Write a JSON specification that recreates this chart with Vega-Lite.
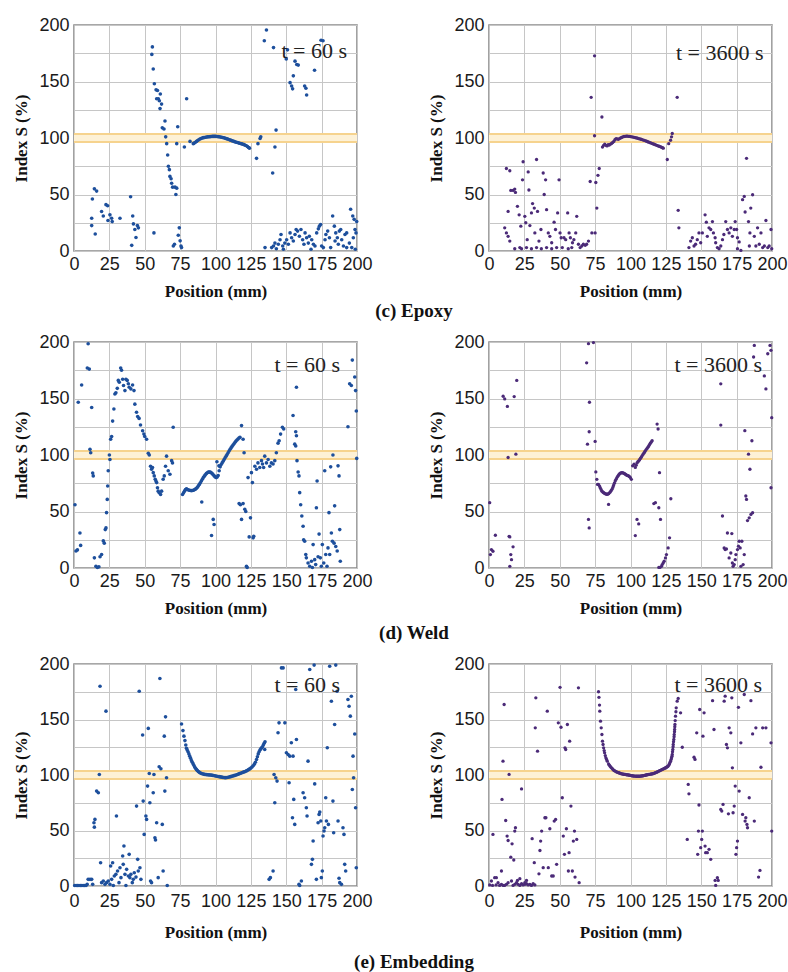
{
"$schema": "https://vega.github.io/schema/vega-lite/v6.json",
"padding": {"left": 12, "top": 15, "right": 0, "bottom": 0},
"background": "white",
"config": {
 "view": {"stroke": "#8a8a8a", "strokeWidth": 1.6},
 "axis": {"domain": false, "grid": true, "gridColor": "#c6c6c6", "gridOpacity": 1, "gridWidth": 1, "ticks": false, "labelOverlap": false, "labelFlush": false, "labelFont": "Liberation Sans", "labelFontSize": 18, "labelColor": "#1a1a1a", "titleFont": "Liberation Serif", "titleFontSize": 17, "titleFontWeight": "bold", "titleColor": "#111111"},
 "title": {"font": "Liberation Serif", "fontSize": 19, "fontWeight": "bold", "color": "#111111"}
},
"datasets": {
 "e60": [
  {"x":12.5,"y":29},{"x":12.5,"y":22.5},{"x":13,"y":46},{"x":14.4,"y":55},{"x":16,"y":53},{"x":15,"y":15},{"x":19.5,"y":35},{"x":20.7,"y":31},{"x":22.6,"y":41},{"x":23.8,"y":40},{"x":24,"y":27},{"x":25.4,"y":32},{"x":26.6,"y":29},{"x":27,"y":26},{"x":32.5,"y":29},{"x":40,"y":48},{"x":40.8,"y":5},{"x":41.5,"y":31},{"x":42,"y":24},{"x":43,"y":19},{"x":43.8,"y":12},{"x":44.8,"y":22.5},{"x":45.5,"y":20.5},
  {"x":55.4,"y":180.6},{"x":55,"y":174},{"x":56,"y":161},{"x":56.8,"y":148},{"x":58,"y":142.6},{"x":59,"y":142},{"x":59.6,"y":134.7},{"x":60.3,"y":133},{"x":58.4,"y":134.7},{"x":61,"y":139},{"x":61.9,"y":130},{"x":60.8,"y":126},{"x":62.4,"y":109},{"x":63.6,"y":108},{"x":64.3,"y":115},{"x":64.8,"y":101},{"x":65.5,"y":95},{"x":66.2,"y":85},{"x":66.7,"y":75},{"x":67.4,"y":72},{"x":67.8,"y":66},{"x":68.6,"y":64},{"x":69,"y":60},{"x":69.7,"y":56.5},{"x":71.4,"y":56.5},{"x":72.6,"y":55.6},{"x":72,"y":50},{"x":70.2,"y":4.4},{"x":71,"y":6},{"x":73.3,"y":110},{"x":72.6,"y":95},{"x":74.4,"y":20.5},{"x":73.7,"y":14},{"x":75,"y":9},{"x":75.6,"y":4.4},{"x":76,"y":3},{"x":79.6,"y":134.7},{"x":78,"y":92},{"x":82,"y":97},{"x":84.3,"y":95},{"x":56.5,"y":16},
  {"x":85,"y":95.5},{"x":85.8,"y":96.2},{"x":86.6,"y":97},{"x":87.4,"y":97.8},{"x":88.2,"y":98.5},{"x":89,"y":99.1},{"x":89.8,"y":99.6},{"x":90.6,"y":100},{"x":91.4,"y":100.3},{"x":92.2,"y":100.5},{"x":93,"y":100.7},{"x":93.8,"y":100.9},{"x":94.6,"y":101},{"x":95.4,"y":101.1},{"x":96.2,"y":101.2},{"x":97,"y":101.3},{"x":97.8,"y":101.4},{"x":98.6,"y":101.4},{"x":99.4,"y":101.4},{"x":100.2,"y":101.4},{"x":101,"y":101.3},{"x":101.8,"y":101.2},{"x":102.6,"y":101.1},{"x":103.4,"y":100.9},{"x":104.2,"y":100.7},{"x":105,"y":100.5},{"x":105.8,"y":100.2},{"x":106.6,"y":99.9},{"x":107.4,"y":99.6},{"x":108.2,"y":99.2},{"x":109,"y":98.9},{"x":109.8,"y":98.5},{"x":110.6,"y":98.1},{"x":111.4,"y":97.7},{"x":112.2,"y":97.3},{"x":113,"y":97},{"x":113.8,"y":96.6},{"x":114.6,"y":96.3},{"x":115.4,"y":96},{"x":116.2,"y":95.7},{"x":117,"y":95.4},{"x":117.8,"y":95.1},{"x":118.6,"y":94.8},{"x":119.4,"y":94.5},{"x":120.2,"y":94.1},{"x":121,"y":93.6},{"x":121.8,"y":93.1},{"x":122.6,"y":92.4},{"x":123.4,"y":91.6},{"x":124,"y":91},
  {"x":129,"y":82},{"x":130,"y":95},{"x":131.5,"y":99.5},{"x":132,"y":101},
  {"x":134.5,"y":186},{"x":136,"y":195.6},{"x":140.4,"y":69},{"x":141,"y":180},{"x":142,"y":92},{"x":142.8,"y":107},{"x":150,"y":170},{"x":150.9,"y":178},{"x":152.7,"y":149},{"x":153.8,"y":146},{"x":154.5,"y":143.5},{"x":155,"y":155},{"x":156.2,"y":168},{"x":157.4,"y":165},{"x":158.5,"y":164.5},{"x":163,"y":146},{"x":163.9,"y":144},{"x":164.4,"y":138},{"x":170,"y":160},{"x":174.6,"y":186.5},{"x":176,"y":186},
  {"x":135,"y":3},{"x":139.7,"y":3},{"x":141,"y":4.4},{"x":142,"y":7},{"x":143,"y":2},{"x":144.4,"y":6},{"x":145.6,"y":10},{"x":146.3,"y":14.6},{"x":147.5,"y":4.4},{"x":148,"y":1.5},{"x":149,"y":7},{"x":150.3,"y":10},{"x":151.5,"y":6},{"x":152.7,"y":16},{"x":153.8,"y":11.7},{"x":155,"y":8.8},{"x":156.2,"y":14.6},{"x":157,"y":19},{"x":158,"y":17.6},{"x":159.3,"y":13},{"x":160.4,"y":19},{"x":161.6,"y":10},{"x":162.5,"y":6},{"x":163.3,"y":16},{"x":164.4,"y":11.7},{"x":165.6,"y":7},{"x":166.3,"y":13},{"x":167.5,"y":1.5},{"x":168,"y":10},{"x":169.2,"y":6},{"x":170.3,"y":4.4},{"x":171.5,"y":16},{"x":172.7,"y":19.6},{"x":173.4,"y":22},{"x":174.3,"y":23.4},{"x":175,"y":4.4},{"x":176.2,"y":3},{"x":177.4,"y":10},{"x":178,"y":14.6},{"x":179.3,"y":17.6},{"x":180.5,"y":11.7},{"x":181.4,"y":3},{"x":182.8,"y":31},{"x":184,"y":22},{"x":185,"y":16},{"x":186.1,"y":11.7},{"x":187.5,"y":17.6},{"x":188.5,"y":19},{"x":189.2,"y":10},{"x":190.4,"y":4.4},{"x":191.5,"y":14.6},{"x":192.7,"y":16},{"x":195.5,"y":37},{"x":194.6,"y":7},{"x":196.3,"y":3},{"x":197,"y":31},{"x":198,"y":28},{"x":198.6,"y":19},{"x":199.3,"y":16},{"x":199.8,"y":26},{"x":198.8,"y":1.5},{"x":197.4,"y":11.7},{"x":192.7,"y":3},{"x":186.8,"y":6},{"x":184.5,"y":8.8}
 ],
 "e3600": [
  {"x":12.3,"y":73},{"x":14.7,"y":71},{"x":15.4,"y":53.6},{"x":13.5,"y":35},{"x":11.1,"y":20.5},{"x":12.3,"y":16},{"x":13.5,"y":13},{"x":14.7,"y":8.8},{"x":17,"y":53.6},{"x":18.2,"y":54.8},{"x":18.7,"y":51.8},{"x":20.1,"y":39.5},{"x":21.3,"y":32},{"x":22.5,"y":22},{"x":23.7,"y":63},{"x":24.1,"y":79},{"x":25.3,"y":30.7},{"x":26,"y":25},{"x":27,"y":10},{"x":27.7,"y":70},{"x":28.2,"y":54},{"x":28.9,"y":22.5},{"x":30,"y":33.7},{"x":30.8,"y":42},{"x":32,"y":38},{"x":32.4,"y":16},{"x":33.6,"y":81},{"x":34.3,"y":35},{"x":35.3,"y":8.8},{"x":36.7,"y":19},{"x":38.3,"y":69},{"x":39,"y":50},{"x":40,"y":63},{"x":40.7,"y":36.6},{"x":41.9,"y":16},{"x":43,"y":13},{"x":44.3,"y":7.3},{"x":46,"y":25.5},{"x":47,"y":19},{"x":48.5,"y":33.7},{"x":49.5,"y":63},{"x":50.2,"y":16},{"x":51,"y":11.7},{"x":51.8,"y":3},{"x":53,"y":11.7},{"x":54.2,"y":10},{"x":55.6,"y":33.7},{"x":56.6,"y":16},{"x":57.5,"y":11.7},{"x":59,"y":7.3},{"x":60,"y":10},{"x":61.3,"y":16},{"x":62,"y":30.7},{"x":63.2,"y":6},{"x":64.4,"y":3},{"x":65.6,"y":4.4},{"x":66.7,"y":6},{"x":68,"y":5},{"x":69,"y":6},{"x":70.3,"y":8.8},{"x":71.5,"y":61.5},{"x":72.7,"y":16},{"x":75,"y":16},{"x":75.5,"y":60.6},{"x":76.2,"y":38},{"x":77,"y":67},{"x":77.9,"y":73},{"x":72.2,"y":136},{"x":74.6,"y":172.7},{"x":74.6,"y":102},{"x":79.8,"y":118.6},
  {"x":18.2,"y":2},{"x":21.8,"y":3},{"x":23,"y":2},{"x":26.5,"y":3},{"x":30,"y":2},{"x":33.6,"y":3},{"x":37,"y":2},{"x":40.7,"y":3},{"x":44.3,"y":2},{"x":47.8,"y":3},{"x":56,"y":2},{"x":58.5,"y":3},
  {"x":80.2,"y":92},{"x":81,"y":93.5},{"x":81.8,"y":94.5},{"x":82.6,"y":93.5},{"x":83.4,"y":93},{"x":84.2,"y":94},{"x":85,"y":93.8},{"x":85.8,"y":94.5},{"x":86.6,"y":95.2},{"x":87.4,"y":96},{"x":88.2,"y":97},{"x":89,"y":98.5},{"x":89.8,"y":99.5},{"x":90.6,"y":99.2},{"x":91.4,"y":98.8},{"x":92.2,"y":99.5},{"x":93,"y":100},{"x":93.8,"y":100.5},{"x":94.6,"y":101},{"x":95.4,"y":101.3},{"x":96.2,"y":101.5},{"x":97,"y":101.6},{"x":97.8,"y":101.6},{"x":98.6,"y":101.5},{"x":99.4,"y":101.4},{"x":100.2,"y":101.2},{"x":101,"y":101},{"x":101.8,"y":100.8},{"x":102.6,"y":100.6},{"x":103.4,"y":100.3},{"x":104.2,"y":100.1},{"x":105,"y":99.8},{"x":105.8,"y":99.5},{"x":106.6,"y":99.2},{"x":107.4,"y":98.9},{"x":108.2,"y":98.6},{"x":109,"y":98.2},{"x":109.8,"y":97.9},{"x":110.6,"y":97.5},{"x":111.4,"y":97.1},{"x":112.2,"y":96.7},{"x":113,"y":96.3},{"x":113.8,"y":95.9},{"x":114.6,"y":95.5},{"x":115.4,"y":95.1},{"x":116.2,"y":94.7},{"x":117,"y":94.3},{"x":117.8,"y":93.9},{"x":118.6,"y":93.5},{"x":119.4,"y":93.1},{"x":120.2,"y":92.7},{"x":121,"y":92.3},{"x":121.8,"y":91.9},{"x":122.6,"y":91.4},{"x":123.2,"y":91},
  {"x":126,"y":81},{"x":127,"y":95},{"x":128.3,"y":98},{"x":129,"y":101},{"x":129.5,"y":104},
  {"x":133,"y":136},{"x":133.7,"y":36},{"x":134.2,"y":20.5},
  {"x":141.3,"y":3},{"x":142.5,"y":8.8},{"x":143.7,"y":11.7},{"x":144.9,"y":4.4},{"x":146,"y":6},{"x":147.2,"y":10},{"x":148.4,"y":16},{"x":149.6,"y":7.3},{"x":150.8,"y":16},{"x":152.7,"y":32},{"x":153.6,"y":25.5},{"x":154.3,"y":13},{"x":155.5,"y":20.5},{"x":156.7,"y":19},{"x":157.9,"y":26},{"x":158.6,"y":16},{"x":159.8,"y":11.7},{"x":160.2,"y":7.3},{"x":161.4,"y":3},{"x":162.6,"y":2},{"x":163.8,"y":4.4},{"x":165,"y":10},{"x":166,"y":14.6},{"x":167.3,"y":26},{"x":168.5,"y":19},{"x":169.7,"y":16},{"x":170.9,"y":20.5},{"x":172,"y":13},{"x":173.3,"y":19},{"x":174,"y":26},{"x":175,"y":19},{"x":175.6,"y":11.7},{"x":176.8,"y":8},{"x":178,"y":0.5},{"x":179.2,"y":45.4},{"x":180.4,"y":48.3},{"x":181,"y":34.5},{"x":182,"y":82},{"x":183.4,"y":26},{"x":184.4,"y":16},{"x":185,"y":38},{"x":186.3,"y":49.8},{"x":187.5,"y":13},{"x":188.6,"y":4.4},{"x":189.8,"y":20.5},{"x":191,"y":6},{"x":192.2,"y":16},{"x":193.4,"y":3},{"x":194.6,"y":4.4},{"x":195.7,"y":27},{"x":197,"y":3},{"x":198,"y":4.4},{"x":199.3,"y":19},{"x":199.8,"y":2},{"x":184,"y":4.4},{"x":175.6,"y":2}
 ],
 "w60": [
  {"x":0.7,"y":56},{"x":1.4,"y":15},{"x":2.4,"y":16},{"x":4.2,"y":31},{"x":4.7,"y":20},{"x":3,"y":146.7},{"x":5.4,"y":162},{"x":10,"y":198.5},{"x":9.4,"y":177},{"x":10.8,"y":176},{"x":11.3,"y":105},{"x":11.8,"y":102},{"x":12.5,"y":142},{"x":13.2,"y":84},{"x":13.6,"y":81.5},{"x":14.4,"y":9},{"x":15.5,"y":1.5},{"x":16.5,"y":0.5},{"x":17.6,"y":1},{"x":18.4,"y":10},{"x":19.5,"y":12},{"x":20.7,"y":24},{"x":21.4,"y":22},{"x":22.1,"y":34},{"x":22.6,"y":35.5},{"x":23,"y":49},{"x":23.5,"y":60.7},{"x":23.8,"y":72.6},{"x":24.2,"y":86},{"x":25,"y":100},{"x":25.4,"y":96},{"x":25.9,"y":114},{"x":26.6,"y":116.4},{"x":27.3,"y":130},{"x":28.2,"y":140.7},{"x":28.9,"y":154},{"x":29.6,"y":155},{"x":30.6,"y":159},{"x":31.3,"y":166},{"x":32,"y":164.4},{"x":33,"y":177},{"x":33.6,"y":175},{"x":34.4,"y":167},{"x":35,"y":161.5},{"x":36,"y":157},{"x":36.7,"y":167},{"x":37.6,"y":166},{"x":38.4,"y":163},{"x":39,"y":160},{"x":40.2,"y":158.5},{"x":41.4,"y":162},{"x":42.4,"y":157},{"x":43,"y":145},{"x":44.2,"y":137.8},{"x":45,"y":134},{"x":46,"y":132.4},{"x":47,"y":126.5},{"x":48.5,"y":121.5},{"x":49.4,"y":118.5},{"x":50,"y":116.4},{"x":51.3,"y":114},{"x":52.5,"y":101.6},{"x":53.2,"y":100},{"x":54.1,"y":90},{"x":54.8,"y":87.4},{"x":55.5,"y":89},{"x":56,"y":84.4},{"x":56.7,"y":81.5},{"x":57.4,"y":78.5},{"x":57.9,"y":77},{"x":58.4,"y":75.6},{"x":59,"y":71},{"x":59.5,"y":68},{"x":60.2,"y":66.7},{"x":61.2,"y":65},{"x":61.9,"y":68},{"x":63,"y":78.5},{"x":63.8,"y":81.5},{"x":64.7,"y":90},{"x":65.4,"y":99},{"x":66.6,"y":86},{"x":67.8,"y":83},{"x":69,"y":95},{"x":69.6,"y":93},{"x":70.1,"y":124.5},
  {"x":76.7,"y":65},{"x":77.4,"y":66.5},{"x":78.1,"y":68},{"x":78.8,"y":69.5},{"x":79.5,"y":70},{"x":80.2,"y":69.5},{"x":80.9,"y":69},{"x":81.6,"y":68.8},{"x":82.3,"y":68.6},{"x":83,"y":68.5},{"x":83.7,"y":68.6},{"x":84.4,"y":68.8},{"x":85.1,"y":69.2},{"x":85.8,"y":69.8},{"x":86.5,"y":70.5},{"x":87.2,"y":71.5},{"x":87.9,"y":72.8},{"x":88.6,"y":74},{"x":89.3,"y":75.5},{"x":90,"y":77},{"x":90.7,"y":78.5},{"x":91.4,"y":80},{"x":92.1,"y":81.3},{"x":92.8,"y":82.5},{"x":93.5,"y":83.5},{"x":94.2,"y":84.3},{"x":94.9,"y":84.8},{"x":95.6,"y":85},{"x":96.3,"y":84.8},{"x":97,"y":84.3},{"x":97.7,"y":83.5},{"x":98.4,"y":82.5},{"x":99.1,"y":81.5},{"x":99.8,"y":80.6},{"x":100.5,"y":80},{"x":101.2,"y":80.5},{"x":101.9,"y":81.8},{"x":102.6,"y":86},{"x":103.3,"y":89.5},{"x":104,"y":91.5},{"x":104.7,"y":93},{"x":105.4,"y":94.5},{"x":106.1,"y":96},{"x":106.8,"y":97.5},{"x":107.5,"y":99},{"x":108.2,"y":100.5},{"x":108.9,"y":102},{"x":109.6,"y":103.5},{"x":110.3,"y":105},{"x":111,"y":106.3},{"x":111.7,"y":107.6},{"x":112.4,"y":108.8},{"x":113.1,"y":110},{"x":113.8,"y":111.2},{"x":114.5,"y":112.3},{"x":115.2,"y":113.3},{"x":115.9,"y":114.2},{"x":116.6,"y":115},{"x":117.3,"y":115.6},
  {"x":90.3,"y":58.4},{"x":97.2,"y":28.7},{"x":98.4,"y":43},{"x":99,"y":38.5},{"x":101,"y":94},{"x":102.4,"y":90.4},
  {"x":118.4,"y":126},{"x":119.5,"y":114},{"x":120.2,"y":102},{"x":116.7,"y":57},{"x":117.6,"y":56},{"x":118.4,"y":43},{"x":119.5,"y":57},{"x":120.7,"y":52},{"x":121.4,"y":50},{"x":121.9,"y":1.5},{"x":122.4,"y":0.5},{"x":123,"y":80},{"x":123.8,"y":27.5},{"x":124.7,"y":44.4},{"x":125.4,"y":84.4},{"x":126.1,"y":75.6},{"x":126.6,"y":26.7},{"x":127,"y":28},{"x":127.8,"y":90},{"x":129,"y":87.4},{"x":130,"y":93},{"x":131.3,"y":89},{"x":132.5,"y":95},{"x":133.2,"y":92},{"x":134,"y":89},{"x":134.8,"y":99},{"x":136,"y":93},{"x":137.2,"y":96},{"x":138.4,"y":90},{"x":139.5,"y":93},{"x":140.7,"y":92},{"x":141.9,"y":95},{"x":143,"y":102},{"x":144.2,"y":110.5},{"x":145,"y":112.6},{"x":146,"y":118.5},{"x":147.3,"y":124.5},{"x":148.2,"y":123},{"x":154.8,"y":135},{"x":156,"y":109.6},{"x":156.7,"y":108},{"x":157.6,"y":95},{"x":158.4,"y":85},{"x":159,"y":81.5},{"x":159.5,"y":66.7},{"x":160.2,"y":56},{"x":161,"y":46},{"x":161.9,"y":37},{"x":162.3,"y":25},{"x":163,"y":23.7},{"x":163.8,"y":12},{"x":164.2,"y":9},{"x":157.2,"y":160},{"x":156.7,"y":120.6},{"x":157.2,"y":117},
  {"x":165.4,"y":4.4},{"x":166.6,"y":1.5},{"x":167.8,"y":6},{"x":168.5,"y":0.5},{"x":169,"y":20.7},{"x":170.1,"y":7.4},{"x":170.8,"y":3},{"x":171.3,"y":53.3},{"x":171.8,"y":77},{"x":172.5,"y":10},{"x":173.2,"y":30},{"x":174.1,"y":9},{"x":174.8,"y":1.5},{"x":175.5,"y":20.7},{"x":176.5,"y":4.4},{"x":177.2,"y":86},{"x":177.9,"y":12},{"x":178.8,"y":1.5},{"x":179.5,"y":17.8},{"x":180.2,"y":49},{"x":180.7,"y":12},{"x":181.4,"y":89.5},{"x":181.9,"y":31},{"x":182.6,"y":23.7},{"x":183,"y":100},{"x":183.8,"y":22},{"x":184.2,"y":55},{"x":185,"y":19},{"x":186,"y":15},{"x":186.6,"y":90.4},{"x":187.3,"y":81.5},{"x":187.8,"y":34},{"x":188.2,"y":6},{"x":193.6,"y":125},{"x":194.8,"y":163},{"x":196,"y":161.5},{"x":196.7,"y":184},{"x":198.4,"y":169},{"x":199,"y":157},{"x":199.5,"y":139},{"x":199.8,"y":97}
 ],
 "w3600": [
  {"x":0.5,"y":57.8},{"x":1,"y":11.9},{"x":1.7,"y":16.3},{"x":2.8,"y":14.8},{"x":4.5,"y":29},{"x":10,"y":152},{"x":11.1,"y":149.6},{"x":13,"y":143},{"x":13.5,"y":97.8},{"x":14.2,"y":28},{"x":14.7,"y":27.5},{"x":15.4,"y":11.9},{"x":15.9,"y":7.4},{"x":14.7,"y":1.5},{"x":17,"y":18.7},{"x":17.8,"y":151.7},{"x":19,"y":100.7},{"x":19.6,"y":166},
  {"x":69,"y":181.6},{"x":70.3,"y":198.5},{"x":73.8,"y":199.5},{"x":69.6,"y":109.6},{"x":70.8,"y":120.6},{"x":70.3,"y":43},{"x":70.8,"y":35.5},{"x":71,"y":146.7},{"x":75,"y":112},{"x":75.5,"y":85},{"x":76.2,"y":78.5},{"x":76.7,"y":74},
  {"x":77.4,"y":74},{"x":78.1,"y":72.5},{"x":78.6,"y":71},{"x":79.2,"y":69.5},{"x":79.8,"y":68},{"x":80.4,"y":67.3},{"x":81,"y":66.7},{"x":81.6,"y":66.2},{"x":82.1,"y":65.8},{"x":82.7,"y":65.5},{"x":83.3,"y":65.2},{"x":83.9,"y":65.3},{"x":84.5,"y":65.8},{"x":85.1,"y":66.5},{"x":85.7,"y":67.3},{"x":86.3,"y":68.4},{"x":86.9,"y":69.6},{"x":87.5,"y":71.3},{"x":88,"y":73},{"x":88.6,"y":75},{"x":89.2,"y":77},{"x":89.8,"y":78.5},{"x":90.4,"y":80},{"x":91,"y":81.2},{"x":91.6,"y":82.4},{"x":92.2,"y":83.2},{"x":92.8,"y":83.9},{"x":93.4,"y":84.2},{"x":94,"y":84.4},{"x":94.6,"y":84.2},{"x":95.2,"y":83.9},{"x":95.8,"y":83.5},{"x":96.3,"y":83},{"x":96.9,"y":82.5},{"x":97.5,"y":82},{"x":98.1,"y":81.8},{"x":98.7,"y":81.5},{"x":99.3,"y":80.8},{"x":99.9,"y":80},{"x":100.6,"y":78.5},{"x":101.5,"y":90.4},{"x":102.5,"y":91.9},{"x":103.4,"y":89},{"x":104,"y":91},{"x":104.6,"y":93},{"x":105.2,"y":94},{"x":105.8,"y":94.8},{"x":106.4,"y":95.8},{"x":107,"y":96.9},{"x":107.6,"y":98.1},{"x":108.2,"y":99.3},{"x":108.8,"y":100.5},{"x":109.4,"y":101.6},{"x":110,"y":102.7},{"x":110.5,"y":103.7},{"x":111.1,"y":104.8},{"x":111.7,"y":105.8},{"x":112.3,"y":106.9},{"x":112.9,"y":108},{"x":113.5,"y":109.2},{"x":114,"y":110.5},{"x":114.7,"y":111.5},{"x":115.3,"y":112.6},
  {"x":84.5,"y":56.3},{"x":103.4,"y":28.7},{"x":104.6,"y":43},{"x":105.8,"y":39},{"x":116.5,"y":57},{"x":117.6,"y":57.8},{"x":118.8,"y":127.4},{"x":119.5,"y":123},{"x":120.5,"y":84.4},{"x":120,"y":53.3},{"x":121.2,"y":43},{"x":121.9,"y":1.5},{"x":122.4,"y":3},{"x":123.1,"y":4.4},{"x":123.8,"y":6},{"x":124.7,"y":8.9},{"x":125.4,"y":11.9},{"x":126.6,"y":17.8},{"x":127.6,"y":26.7},{"x":128.5,"y":61.3},{"x":120,"y":0.5},{"x":120.8,"y":0.5},
  {"x":163.8,"y":163},{"x":163.8,"y":126.5},{"x":165,"y":46},{"x":166.2,"y":17.8},{"x":166.9,"y":16.3},{"x":167.8,"y":16.9},{"x":168.5,"y":31},{"x":169.7,"y":8.9},{"x":170.9,"y":13.3},{"x":171.6,"y":30.5},{"x":172,"y":4.4},{"x":172.5,"y":1.5},{"x":173.3,"y":3},{"x":174,"y":7.4},{"x":174.5,"y":11.9},{"x":175.6,"y":16.3},{"x":176.3,"y":19.3},{"x":176.8,"y":23.7},{"x":177.5,"y":17.8},{"x":178,"y":1.5},{"x":178.7,"y":23.7},{"x":179.6,"y":3},{"x":180.4,"y":11.9},{"x":180.8,"y":121.5},{"x":181.5,"y":63.7},{"x":182,"y":60.7},{"x":182.7,"y":42},{"x":183.4,"y":100.7},{"x":183.9,"y":44.4},{"x":184.4,"y":87.4},{"x":185.1,"y":47.4},{"x":185.8,"y":112.6},{"x":186.3,"y":48.9},{"x":187,"y":186.7},{"x":187.5,"y":197},{"x":194.6,"y":170},{"x":195.7,"y":158.5},{"x":197,"y":189.6},{"x":198.6,"y":197},{"x":199.3,"y":192.6},{"x":199.8,"y":133},{"x":199.3,"y":71}
 ],
 "m60": [
  {"x":0.5,"y":0.5},{"x":1.5,"y":0.5},{"x":2.5,"y":0.5},{"x":3.5,"y":0.5},{"x":4.5,"y":0.5},{"x":5.5,"y":0.5},{"x":6.5,"y":0.5},{"x":7.5,"y":0.5},{"x":8.5,"y":0.5},{"x":9.3,"y":1.5},
  {"x":10,"y":6},{"x":11.3,"y":6},{"x":12.5,"y":6},{"x":13.2,"y":1.5},{"x":14.1,"y":57},{"x":14.8,"y":60},{"x":14.4,"y":53},{"x":16,"y":85.5},{"x":17.2,"y":84},{"x":17.9,"y":100.5},{"x":18.4,"y":180},{"x":18.8,"y":21},{"x":19.5,"y":3},{"x":20.7,"y":4.5},{"x":21.9,"y":1.5},{"x":22.6,"y":157.5},{"x":23,"y":3},{"x":24.2,"y":4.5},{"x":25.4,"y":1.5},{"x":25.9,"y":18},{"x":26.6,"y":6},{"x":27.3,"y":21},{"x":27.8,"y":0.5},{"x":28.5,"y":9},{"x":29.6,"y":10.5},{"x":30,"y":63},{"x":30.8,"y":13.5},{"x":31.8,"y":3},{"x":32.5,"y":16.5},{"x":33.2,"y":7.5},{"x":34.4,"y":27},{"x":34.8,"y":19.5},{"x":35.3,"y":36},{"x":36,"y":10.5},{"x":36.7,"y":0.5},{"x":37.2,"y":15},{"x":38.4,"y":9},{"x":39,"y":28.5},{"x":39.5,"y":7.5},{"x":40.2,"y":10.5},{"x":41.2,"y":3},{"x":41.9,"y":6},{"x":42.6,"y":12},{"x":43.8,"y":8},{"x":44.2,"y":72},{"x":45,"y":24},{"x":45.4,"y":13.5},{"x":46.1,"y":175.5},{"x":46.6,"y":16.5},{"x":47.3,"y":6},{"x":48.5,"y":136},{"x":48.9,"y":76.5},{"x":49.6,"y":46.5},{"x":50.8,"y":63},{"x":51.3,"y":60},{"x":52,"y":90},{"x":52.5,"y":142},{"x":53.2,"y":101.4},{"x":53.6,"y":75},{"x":54.1,"y":4.5},{"x":54.8,"y":3},{"x":56,"y":84},{"x":56.5,"y":100.5},{"x":57.2,"y":43.5},{"x":57.6,"y":41.4},{"x":58.4,"y":57},{"x":59.5,"y":7.5},{"x":60.2,"y":107.4},{"x":60.7,"y":187},{"x":61.4,"y":105.6},{"x":62.4,"y":55.5},{"x":63,"y":13.5},{"x":63.8,"y":135},{"x":64.2,"y":85.5},{"x":64.7,"y":152.4},{"x":65.4,"y":97.5},{"x":65.9,"y":0.5},
  {"x":76,"y":146},{"x":77,"y":140},{"x":77.7,"y":135},{"x":78.4,"y":131},{"x":79,"y":127},{"x":79.5,"y":124},{"x":80,"y":122.5},{"x":80.6,"y":121},{"x":81.2,"y":119},{"x":81.8,"y":117},{"x":82.4,"y":115},{"x":83,"y":113},{"x":83.6,"y":111.5},{"x":84.2,"y":110},{"x":84.8,"y":108.5},{"x":85.4,"y":107},{"x":86,"y":105.8},{"x":86.6,"y":104.8},{"x":87.2,"y":104},{"x":87.8,"y":103.2},{"x":88.4,"y":102.6},{"x":89,"y":102},{"x":89.8,"y":101.5},{"x":90.6,"y":101.1},{"x":91.4,"y":100.8},{"x":92.2,"y":100.6},{"x":93,"y":100.4},{"x":93.8,"y":100.3},{"x":94.6,"y":100.2},{"x":95.4,"y":100.1},{"x":96.2,"y":100},{"x":97,"y":99.9},{"x":97.8,"y":99.7},{"x":98.6,"y":99.5},{"x":99.4,"y":99.3},{"x":100.2,"y":99.1},{"x":101,"y":98.9},{"x":101.8,"y":98.7},{"x":102.6,"y":98.5},{"x":103.4,"y":98.3},{"x":104.2,"y":98.1},{"x":105,"y":97.9},{"x":105.8,"y":97.7},{"x":106.6,"y":97.6},{"x":107.4,"y":97.6},{"x":108.2,"y":97.8},{"x":109,"y":98},{"x":109.8,"y":98.2},{"x":110.6,"y":98.5},{"x":111.4,"y":98.8},{"x":112.2,"y":99.1},{"x":113,"y":99.4},{"x":113.8,"y":99.7},{"x":114.6,"y":100},{"x":115.4,"y":100.4},{"x":116.2,"y":100.8},{"x":117,"y":101.2},{"x":117.8,"y":101.6},{"x":118.6,"y":102},{"x":119.4,"y":102.4},{"x":120.2,"y":102.8},{"x":121,"y":103.2},{"x":121.8,"y":103.7},{"x":122.6,"y":104.2},{"x":123.4,"y":104.8},{"x":124.2,"y":105.5},{"x":125,"y":106.3},{"x":125.8,"y":107.2},{"x":126.6,"y":108.3},{"x":127.4,"y":109.6},{"x":128.2,"y":111.5},{"x":129,"y":114},{"x":129.6,"y":116.5},{"x":130.2,"y":119},{"x":130.8,"y":121},{"x":131.4,"y":122.5},{"x":132,"y":123.5},{"x":132.6,"y":124.5},{"x":133.2,"y":125.5},{"x":133.8,"y":127},{"x":134.4,"y":128.5},{"x":135,"y":130},{"x":134.8,"y":123},
  {"x":137.9,"y":6},{"x":138.8,"y":7.5},{"x":140.7,"y":13.5},{"x":141.9,"y":75},{"x":141.4,"y":100.5},{"x":142.6,"y":97.5},{"x":143.5,"y":94.5},{"x":144.2,"y":138},{"x":144.9,"y":147},{"x":146.6,"y":196.5},{"x":147.8,"y":196.5},{"x":149,"y":147},{"x":150.1,"y":120},{"x":151.3,"y":118.5},{"x":152,"y":93},{"x":152.5,"y":117},{"x":153.6,"y":129},{"x":154.4,"y":61.5},{"x":154.8,"y":117},{"x":155.3,"y":78},{"x":156,"y":55.5},{"x":156.7,"y":177},{"x":157.2,"y":132},{"x":159,"y":1.5},{"x":159.5,"y":0.5},{"x":160.7,"y":4.5},{"x":161.9,"y":84},{"x":163,"y":79.5},{"x":164.2,"y":70.5},{"x":164.7,"y":63},{"x":165.4,"y":112.5},{"x":166.6,"y":195},{"x":167.8,"y":19.5},{"x":168.5,"y":24},{"x":169,"y":40.5},{"x":169.7,"y":199},{"x":170.1,"y":92},{"x":171.3,"y":6},{"x":172.5,"y":57},{"x":173.2,"y":64.5},{"x":173.7,"y":66.6},{"x":174.4,"y":58.5},{"x":174.8,"y":7.5},{"x":175.5,"y":13.5},{"x":176,"y":45},{"x":176.7,"y":49.5},{"x":177.2,"y":52.5},{"x":177.9,"y":79.5},{"x":178.4,"y":58.5},{"x":179,"y":124.5},{"x":179.8,"y":55.5},{"x":180.7,"y":198},{"x":181.9,"y":166.5},{"x":183,"y":76.5},{"x":183.5,"y":48},{"x":184.2,"y":145.5},{"x":185,"y":199},{"x":185.9,"y":175.5},{"x":186.6,"y":58.5},{"x":187.3,"y":7},{"x":187.8,"y":3},{"x":189,"y":1.5},{"x":190.1,"y":52.5},{"x":190.8,"y":46.5},{"x":191.3,"y":19.5},{"x":192,"y":13.5},{"x":193.6,"y":168},{"x":194.4,"y":162},{"x":195.3,"y":153},{"x":196,"y":171},{"x":196.7,"y":87},{"x":197.2,"y":117},{"x":198.4,"y":137},{"x":199,"y":70.5},{"x":199.5,"y":16.5},{"x":197.6,"y":97.5}
 ],
 "m3600": [
  {"x":0.5,"y":1},{"x":1.7,"y":4.5},{"x":2.5,"y":0.5},{"x":4,"y":7.5},{"x":5,"y":1},{"x":6.4,"y":3},{"x":7.5,"y":0.5},{"x":8.8,"y":1.5},{"x":10,"y":0.5},{"x":11,"y":0.5},{"x":12.3,"y":1.5},{"x":13.5,"y":3},{"x":15.9,"y":4.5},{"x":17,"y":0.5},{"x":18.2,"y":1.5},{"x":19.4,"y":3},{"x":20.6,"y":1.5},{"x":21.8,"y":0.5},{"x":23,"y":2},{"x":24.1,"y":1},{"x":25.3,"y":1.5},{"x":26.5,"y":2},{"x":27.7,"y":1},{"x":28.9,"y":1.5},{"x":30,"y":0.5},{"x":31.2,"y":2},{"x":32.4,"y":1},
  {"x":2.8,"y":46.5},{"x":5.2,"y":7.5},{"x":8.8,"y":13.5},{"x":9.2,"y":78},{"x":9.9,"y":112.5},{"x":10.7,"y":163.5},{"x":11.8,"y":59},{"x":12.8,"y":45},{"x":13.5,"y":41},{"x":14.2,"y":100.5},{"x":15.4,"y":26},{"x":16.3,"y":38},{"x":17.5,"y":23.4},{"x":18.2,"y":49.5},{"x":18.7,"y":52.5},{"x":20.1,"y":5},{"x":21.8,"y":6.6},{"x":23,"y":87.5},{"x":25.3,"y":3},{"x":26.5,"y":5},{"x":30.5,"y":42.6},{"x":32,"y":21},{"x":32.7,"y":142.5},{"x":33.1,"y":169.5},{"x":34.3,"y":121.5},{"x":35.3,"y":11},{"x":36,"y":32},{"x":36.5,"y":40.5},{"x":37.2,"y":49.5},{"x":38.3,"y":16.5},{"x":39.5,"y":61.5},{"x":40.2,"y":61.5},{"x":41.2,"y":157.5},{"x":41.9,"y":16.5},{"x":43,"y":51.6},{"x":44.3,"y":9},{"x":45.4,"y":9},{"x":46.1,"y":58.5},{"x":47.1,"y":60},{"x":47.8,"y":19.5},{"x":49,"y":147},{"x":50.2,"y":179},{"x":50.9,"y":143},{"x":51.8,"y":79.5},{"x":52.5,"y":45},{"x":53.3,"y":28.5},{"x":53.7,"y":124.5},{"x":54.2,"y":123},{"x":54.7,"y":51.6},{"x":55.4,"y":145.5},{"x":56.1,"y":13.5},{"x":56.6,"y":30},{"x":57,"y":130.5},{"x":57.9,"y":72},{"x":58.9,"y":13.5},{"x":59.6,"y":40.5},{"x":60.4,"y":49.5},{"x":60.8,"y":8},{"x":62,"y":42},{"x":63.2,"y":178.5},{"x":63.7,"y":3},
  {"x":77.4,"y":175},{"x":77.7,"y":170},{"x":78.1,"y":163},{"x":78.3,"y":157.5},{"x":78.8,"y":148.5},{"x":79.3,"y":142.5},{"x":79.8,"y":136.5},{"x":80.2,"y":130.5},{"x":80.6,"y":127.5},{"x":81,"y":124.5},{"x":81.4,"y":122},{"x":81.7,"y":120},{"x":82.2,"y":117.5},{"x":82.6,"y":115.5},{"x":83.1,"y":114},{"x":83.6,"y":112.5},{"x":84.5,"y":110},{"x":85.1,"y":108.8},{"x":85.7,"y":107.7},{"x":86.3,"y":106.8},{"x":86.9,"y":106},{"x":87.5,"y":105.2},{"x":88,"y":104.4},{"x":88.6,"y":103.9},{"x":89.2,"y":103.5},{"x":89.8,"y":103},{"x":90.4,"y":102.6},{"x":91,"y":102.3},{"x":91.6,"y":102},{"x":92.2,"y":101.8},{"x":92.8,"y":101.5},{"x":93.4,"y":101.2},{"x":94,"y":101},{"x":94.6,"y":100.8},{"x":95.2,"y":100.7},{"x":95.8,"y":100.6},{"x":96.3,"y":100.5},{"x":96.9,"y":100.3},{"x":97.5,"y":100.2},{"x":98.1,"y":100.1},{"x":98.7,"y":100},{"x":99.3,"y":99.8},{"x":99.9,"y":99.6},{"x":100.5,"y":99.5},{"x":101,"y":99.3},{"x":101.6,"y":99.2},{"x":102.2,"y":99.1},{"x":102.8,"y":99},{"x":103.4,"y":99},{"x":104,"y":98.9},{"x":104.6,"y":98.9},{"x":105.2,"y":98.9},{"x":105.8,"y":98.9},{"x":106.4,"y":98.9},{"x":107,"y":99},{"x":107.6,"y":99.1},{"x":108.2,"y":99.2},{"x":108.8,"y":99.3},{"x":109.4,"y":99.5},{"x":110,"y":99.6},{"x":110.5,"y":99.8},{"x":111.1,"y":100},{"x":111.7,"y":100.2},{"x":112.3,"y":100.3},{"x":112.9,"y":100.5},{"x":113.5,"y":100.6},{"x":114.1,"y":100.8},{"x":114.7,"y":100.9},{"x":115.3,"y":101},{"x":115.9,"y":101.2},{"x":116.5,"y":101.5},{"x":117,"y":101.7},{"x":117.6,"y":102},{"x":118.2,"y":102.3},{"x":118.8,"y":102.7},{"x":119.4,"y":103.1},{"x":120,"y":103.5},{"x":120.6,"y":103.8},{"x":121.2,"y":104.2},{"x":121.8,"y":104.6},{"x":122.4,"y":105},{"x":123,"y":105.3},{"x":123.6,"y":105.7},{"x":124.2,"y":106.1},{"x":124.7,"y":106.5},{"x":125.2,"y":106.8},{"x":125.7,"y":107.2},{"x":126.2,"y":107.6},{"x":126.6,"y":108},{"x":127.1,"y":109},{"x":127.5,"y":110},{"x":127.9,"y":111.2},{"x":128.3,"y":112.5},{"x":128.7,"y":114},{"x":129,"y":115.5},{"x":129.3,"y":117},{"x":129.5,"y":118.5},{"x":129.7,"y":121},{"x":129.9,"y":123},{"x":130.1,"y":125.5},{"x":130.2,"y":127.5},{"x":130.4,"y":130},{"x":130.6,"y":132},{"x":130.8,"y":134.5},{"x":130.9,"y":136.5},{"x":131.1,"y":139},{"x":131.2,"y":141},{"x":131.3,"y":143.5},{"x":131.4,"y":145.5},{"x":131.6,"y":149},{"x":131.8,"y":153},{"x":132.1,"y":157},{"x":132.3,"y":160.5},{"x":133,"y":166.5},{"x":133.7,"y":169},
  {"x":135.4,"y":156},{"x":136.6,"y":125},{"x":140.1,"y":42},{"x":140.8,"y":91.5},{"x":141.3,"y":83},{"x":144.9,"y":116},{"x":145.6,"y":114},{"x":146.8,"y":138},{"x":147.5,"y":28.5},{"x":148,"y":49.5},{"x":148.4,"y":73},{"x":148.9,"y":159},{"x":149.6,"y":34.5},{"x":150.3,"y":42},{"x":150.8,"y":49.5},{"x":151.2,"y":135},{"x":152,"y":156},{"x":152.7,"y":36},{"x":153.1,"y":30},{"x":154.3,"y":30},{"x":155.5,"y":33},{"x":156.7,"y":24},{"x":158,"y":167},{"x":159,"y":141},{"x":159.8,"y":5},{"x":160.2,"y":0.5},{"x":161.4,"y":7.5},{"x":162,"y":5},{"x":163.8,"y":69},{"x":164.5,"y":67.5},{"x":165.4,"y":73.5},{"x":166.2,"y":166.5},{"x":166.9,"y":171},{"x":167.8,"y":127.5},{"x":168.5,"y":124.5},{"x":169.2,"y":65},{"x":169.7,"y":142.5},{"x":170.9,"y":138},{"x":171.6,"y":169.5},{"x":172,"y":106.5},{"x":172.5,"y":66},{"x":173.3,"y":72},{"x":174,"y":90},{"x":174.5,"y":28.5},{"x":175,"y":34.5},{"x":175.6,"y":40.5},{"x":176.3,"y":161},{"x":176.8,"y":85.5},{"x":178,"y":129},{"x":179.2,"y":64.5},{"x":180.4,"y":172.5},{"x":181,"y":58.5},{"x":181.5,"y":61.5},{"x":182.3,"y":55.5},{"x":182.7,"y":52.5},{"x":183.9,"y":79.5},{"x":185.1,"y":167},{"x":186.3,"y":137},{"x":187.5,"y":58.5},{"x":188.6,"y":142.5},{"x":190.5,"y":8},{"x":191.5,"y":14},{"x":192.2,"y":107},{"x":193.4,"y":142.5},{"x":195.7,"y":142.5},{"x":199.3,"y":129},{"x":199.8,"y":49.5}
 ]
},
"spacing": 11,
"vconcat": [
 {"hconcat": [
  {"width": 283, "height": 226, "layer": [
   {"data": {"values": [{}]}, "mark": {"type": "rect", "fill": "#fdf1d6"}, "encoding": {"x": {"datum": 0, "type": "quantitative", "scale": {"domain": [0, 200], "nice": false}, "axis": {"values": [0,25,50,75,100,125,150,175,200], "grid": true, "gridColor": "#c6c6c6", "labelOverlap": false, "title": "Position (mm)", "labelPadding": 4, "titlePadding": 10}}, "x2": {"datum": 200}, "y": {"datum": 96.5, "type": "quantitative", "scale": {"domain": [0, 200], "nice": false}, "axis": {"values": [0,25,50,75,100,125,150,175,200], "grid": true, "gridColor": "#c6c6c6", "labelOverlap": false, "labelExpr": "datum.value % 50 === 0 ? datum.label : ''", "title": "Index S (%)", "labelPadding": 5, "titlePadding": 8}}, "y2": {"datum": 103.5}}},
   {"data": {"values": [{}]}, "mark": {"type": "rule", "color": "#f6d38e", "strokeWidth": 2}, "encoding": {"y": {"datum": 96.5, "type": "quantitative", "axis": {"values": [0,25,50,75,100,125,150,175,200], "grid": true, "gridColor": "#c6c6c6", "labelOverlap": false, "labelExpr": "datum.value % 50 === 0 ? datum.label : ''", "title": "Index S (%)", "labelPadding": 5, "titlePadding": 8}}}},
   {"data": {"values": [{}]}, "mark": {"type": "rule", "color": "#f6d38e", "strokeWidth": 2}, "encoding": {"y": {"datum": 103.5, "type": "quantitative", "axis": {"values": [0,25,50,75,100,125,150,175,200], "grid": true, "gridColor": "#c6c6c6", "labelOverlap": false, "labelExpr": "datum.value % 50 === 0 ? datum.label : ''", "title": "Index S (%)", "labelPadding": 5, "titlePadding": 8}}}},
   {"data": {"name": "e60"}, "mark": {"type": "circle", "size": 13, "color": "#1d4f9c", "opacity": 1}, "encoding": {"x": {"field": "x", "type": "quantitative", "axis": {"values": [0,25,50,75,100,125,150,175,200], "grid": true, "gridColor": "#c6c6c6", "labelOverlap": false, "title": "Position (mm)", "labelPadding": 4, "titlePadding": 10}}, "y": {"field": "y", "type": "quantitative", "axis": {"values": [0,25,50,75,100,125,150,175,200], "grid": true, "gridColor": "#c6c6c6", "labelOverlap": false, "labelExpr": "datum.value % 50 === 0 ? datum.label : ''", "title": "Index S (%)", "labelPadding": 5, "titlePadding": 8}}}},
   {"data": {"values": [{}]}, "mark": {"type": "text", "font": "Liberation Serif", "fontSize": 22, "align": "right", "baseline": "middle", "color": "#222222"}, "encoding": {"x": {"datum": 193, "type": "quantitative", "axis": {"values": [0,25,50,75,100,125,150,175,200], "grid": true, "gridColor": "#c6c6c6", "labelOverlap": false, "title": "Position (mm)", "labelPadding": 4, "titlePadding": 10}}, "y": {"datum": 177, "type": "quantitative", "axis": {"values": [0,25,50,75,100,125,150,175,200], "grid": true, "gridColor": "#c6c6c6", "labelOverlap": false, "labelExpr": "datum.value % 50 === 0 ? datum.label : ''", "title": "Index S (%)", "labelPadding": 5, "titlePadding": 8}}, "text": {"value": "t = 60 s"}}}
  ]},
  {"width": 283, "height": 226, "layer": [
   {"data": {"values": [{}]}, "mark": {"type": "rect", "fill": "#fdf1d6"}, "encoding": {"x": {"datum": 0, "type": "quantitative", "scale": {"domain": [0, 200], "nice": false}, "axis": {"values": [0,25,50,75,100,125,150,175,200], "grid": true, "gridColor": "#c6c6c6", "labelOverlap": false, "title": "Position (mm)", "labelPadding": 4, "titlePadding": 10}}, "x2": {"datum": 200}, "y": {"datum": 96.5, "type": "quantitative", "scale": {"domain": [0, 200], "nice": false}, "axis": {"values": [0,25,50,75,100,125,150,175,200], "grid": true, "gridColor": "#c6c6c6", "labelOverlap": false, "labelExpr": "datum.value % 50 === 0 ? datum.label : ''", "title": "Index S (%)", "labelPadding": 5, "titlePadding": 8}}, "y2": {"datum": 103.5}}},
   {"data": {"values": [{}]}, "mark": {"type": "rule", "color": "#f6d38e", "strokeWidth": 2}, "encoding": {"y": {"datum": 96.5, "type": "quantitative", "axis": {"values": [0,25,50,75,100,125,150,175,200], "grid": true, "gridColor": "#c6c6c6", "labelOverlap": false, "labelExpr": "datum.value % 50 === 0 ? datum.label : ''", "title": "Index S (%)", "labelPadding": 5, "titlePadding": 8}}}},
   {"data": {"values": [{}]}, "mark": {"type": "rule", "color": "#f6d38e", "strokeWidth": 2}, "encoding": {"y": {"datum": 103.5, "type": "quantitative", "axis": {"values": [0,25,50,75,100,125,150,175,200], "grid": true, "gridColor": "#c6c6c6", "labelOverlap": false, "labelExpr": "datum.value % 50 === 0 ? datum.label : ''", "title": "Index S (%)", "labelPadding": 5, "titlePadding": 8}}}},
   {"data": {"name": "e3600"}, "mark": {"type": "circle", "size": 11, "color": "#4b2a78", "opacity": 1}, "encoding": {"x": {"field": "x", "type": "quantitative", "axis": {"values": [0,25,50,75,100,125,150,175,200], "grid": true, "gridColor": "#c6c6c6", "labelOverlap": false, "title": "Position (mm)", "labelPadding": 4, "titlePadding": 10}}, "y": {"field": "y", "type": "quantitative", "axis": {"values": [0,25,50,75,100,125,150,175,200], "grid": true, "gridColor": "#c6c6c6", "labelOverlap": false, "labelExpr": "datum.value % 50 === 0 ? datum.label : ''", "title": "Index S (%)", "labelPadding": 5, "titlePadding": 8}}}},
   {"data": {"values": [{}]}, "mark": {"type": "text", "font": "Liberation Serif", "fontSize": 22, "align": "right", "baseline": "middle", "color": "#222222"}, "encoding": {"x": {"datum": 194, "type": "quantitative", "axis": {"values": [0,25,50,75,100,125,150,175,200], "grid": true, "gridColor": "#c6c6c6", "labelOverlap": false, "title": "Position (mm)", "labelPadding": 4, "titlePadding": 10}}, "y": {"datum": 175, "type": "quantitative", "axis": {"values": [0,25,50,75,100,125,150,175,200], "grid": true, "gridColor": "#c6c6c6", "labelOverlap": false, "labelExpr": "datum.value % 50 === 0 ? datum.label : ''", "title": "Index S (%)", "labelPadding": 5, "titlePadding": 8}}, "text": {"value": "t = 3600 s"}}}
  ]}
 ], "spacing": 54, "title": {"text": "(c) Epoxy", "orient": "bottom", "anchor": "middle", "offset": 2, "dx": 14}},
 {"hconcat": [
  {"width": 283, "height": 226, "layer": [
   {"data": {"values": [{}]}, "mark": {"type": "rect", "fill": "#fdf1d6"}, "encoding": {"x": {"datum": 0, "type": "quantitative", "scale": {"domain": [0, 200], "nice": false}, "axis": {"values": [0,25,50,75,100,125,150,175,200], "grid": true, "gridColor": "#c6c6c6", "labelOverlap": false, "title": "Position (mm)", "labelPadding": 4, "titlePadding": 10}}, "x2": {"datum": 200}, "y": {"datum": 96.5, "type": "quantitative", "scale": {"domain": [0, 200], "nice": false}, "axis": {"values": [0,25,50,75,100,125,150,175,200], "grid": true, "gridColor": "#c6c6c6", "labelOverlap": false, "labelExpr": "datum.value % 50 === 0 ? datum.label : ''", "title": "Index S (%)", "labelPadding": 5, "titlePadding": 8}}, "y2": {"datum": 103.5}}},
   {"data": {"values": [{}]}, "mark": {"type": "rule", "color": "#f6d38e", "strokeWidth": 2}, "encoding": {"y": {"datum": 96.5, "type": "quantitative", "axis": {"values": [0,25,50,75,100,125,150,175,200], "grid": true, "gridColor": "#c6c6c6", "labelOverlap": false, "labelExpr": "datum.value % 50 === 0 ? datum.label : ''", "title": "Index S (%)", "labelPadding": 5, "titlePadding": 8}}}},
   {"data": {"values": [{}]}, "mark": {"type": "rule", "color": "#f6d38e", "strokeWidth": 2}, "encoding": {"y": {"datum": 103.5, "type": "quantitative", "axis": {"values": [0,25,50,75,100,125,150,175,200], "grid": true, "gridColor": "#c6c6c6", "labelOverlap": false, "labelExpr": "datum.value % 50 === 0 ? datum.label : ''", "title": "Index S (%)", "labelPadding": 5, "titlePadding": 8}}}},
   {"data": {"name": "w60"}, "mark": {"type": "circle", "size": 13, "color": "#1d4f9c", "opacity": 1}, "encoding": {"x": {"field": "x", "type": "quantitative", "axis": {"values": [0,25,50,75,100,125,150,175,200], "grid": true, "gridColor": "#c6c6c6", "labelOverlap": false, "title": "Position (mm)", "labelPadding": 4, "titlePadding": 10}}, "y": {"field": "y", "type": "quantitative", "axis": {"values": [0,25,50,75,100,125,150,175,200], "grid": true, "gridColor": "#c6c6c6", "labelOverlap": false, "labelExpr": "datum.value % 50 === 0 ? datum.label : ''", "title": "Index S (%)", "labelPadding": 5, "titlePadding": 8}}}},
   {"data": {"values": [{}]}, "mark": {"type": "text", "font": "Liberation Serif", "fontSize": 22, "align": "right", "baseline": "middle", "color": "#222222"}, "encoding": {"x": {"datum": 188, "type": "quantitative", "axis": {"values": [0,25,50,75,100,125,150,175,200], "grid": true, "gridColor": "#c6c6c6", "labelOverlap": false, "title": "Position (mm)", "labelPadding": 4, "titlePadding": 10}}, "y": {"datum": 180, "type": "quantitative", "axis": {"values": [0,25,50,75,100,125,150,175,200], "grid": true, "gridColor": "#c6c6c6", "labelOverlap": false, "labelExpr": "datum.value % 50 === 0 ? datum.label : ''", "title": "Index S (%)", "labelPadding": 5, "titlePadding": 8}}, "text": {"value": "t = 60 s"}}}
  ]},
  {"width": 283, "height": 226, "layer": [
   {"data": {"values": [{}]}, "mark": {"type": "rect", "fill": "#fdf1d6"}, "encoding": {"x": {"datum": 0, "type": "quantitative", "scale": {"domain": [0, 200], "nice": false}, "axis": {"values": [0,25,50,75,100,125,150,175,200], "grid": true, "gridColor": "#c6c6c6", "labelOverlap": false, "title": "Position (mm)", "labelPadding": 4, "titlePadding": 10}}, "x2": {"datum": 200}, "y": {"datum": 96.5, "type": "quantitative", "scale": {"domain": [0, 200], "nice": false}, "axis": {"values": [0,25,50,75,100,125,150,175,200], "grid": true, "gridColor": "#c6c6c6", "labelOverlap": false, "labelExpr": "datum.value % 50 === 0 ? datum.label : ''", "title": "Index S (%)", "labelPadding": 5, "titlePadding": 8}}, "y2": {"datum": 103.5}}},
   {"data": {"values": [{}]}, "mark": {"type": "rule", "color": "#f6d38e", "strokeWidth": 2}, "encoding": {"y": {"datum": 96.5, "type": "quantitative", "axis": {"values": [0,25,50,75,100,125,150,175,200], "grid": true, "gridColor": "#c6c6c6", "labelOverlap": false, "labelExpr": "datum.value % 50 === 0 ? datum.label : ''", "title": "Index S (%)", "labelPadding": 5, "titlePadding": 8}}}},
   {"data": {"values": [{}]}, "mark": {"type": "rule", "color": "#f6d38e", "strokeWidth": 2}, "encoding": {"y": {"datum": 103.5, "type": "quantitative", "axis": {"values": [0,25,50,75,100,125,150,175,200], "grid": true, "gridColor": "#c6c6c6", "labelOverlap": false, "labelExpr": "datum.value % 50 === 0 ? datum.label : ''", "title": "Index S (%)", "labelPadding": 5, "titlePadding": 8}}}},
   {"data": {"name": "w3600"}, "mark": {"type": "circle", "size": 11, "color": "#4b2a78", "opacity": 1}, "encoding": {"x": {"field": "x", "type": "quantitative", "axis": {"values": [0,25,50,75,100,125,150,175,200], "grid": true, "gridColor": "#c6c6c6", "labelOverlap": false, "title": "Position (mm)", "labelPadding": 4, "titlePadding": 10}}, "y": {"field": "y", "type": "quantitative", "axis": {"values": [0,25,50,75,100,125,150,175,200], "grid": true, "gridColor": "#c6c6c6", "labelOverlap": false, "labelExpr": "datum.value % 50 === 0 ? datum.label : ''", "title": "Index S (%)", "labelPadding": 5, "titlePadding": 8}}}},
   {"data": {"values": [{}]}, "mark": {"type": "text", "font": "Liberation Serif", "fontSize": 22, "align": "right", "baseline": "middle", "color": "#222222"}, "encoding": {"x": {"datum": 193, "type": "quantitative", "axis": {"values": [0,25,50,75,100,125,150,175,200], "grid": true, "gridColor": "#c6c6c6", "labelOverlap": false, "title": "Position (mm)", "labelPadding": 4, "titlePadding": 10}}, "y": {"datum": 180, "type": "quantitative", "axis": {"values": [0,25,50,75,100,125,150,175,200], "grid": true, "gridColor": "#c6c6c6", "labelOverlap": false, "labelExpr": "datum.value % 50 === 0 ? datum.label : ''", "title": "Index S (%)", "labelPadding": 5, "titlePadding": 8}}, "text": {"value": "t = 3600 s"}}}
  ]}
 ], "spacing": 54, "title": {"text": "(d) Weld", "orient": "bottom", "anchor": "middle", "offset": 7, "dx": 14}},
 {"hconcat": [
  {"width": 283, "height": 222, "layer": [
   {"data": {"values": [{}]}, "mark": {"type": "rect", "fill": "#fdf1d6"}, "encoding": {"x": {"datum": 0, "type": "quantitative", "scale": {"domain": [0, 200], "nice": false}, "axis": {"values": [0,25,50,75,100,125,150,175,200], "grid": true, "gridColor": "#c6c6c6", "labelOverlap": false, "title": "Position (mm)", "labelPadding": 6, "titlePadding": 14}}, "x2": {"datum": 200}, "y": {"datum": 96.5, "type": "quantitative", "scale": {"domain": [0, 200], "nice": false}, "axis": {"values": [0,25,50,75,100,125,150,175,200], "grid": true, "gridColor": "#c6c6c6", "labelOverlap": false, "labelExpr": "datum.value % 50 === 0 ? datum.label : ''", "title": "Index S (%)", "labelPadding": 5, "titlePadding": 8}}, "y2": {"datum": 103.5}}},
   {"data": {"values": [{}]}, "mark": {"type": "rule", "color": "#f6d38e", "strokeWidth": 2}, "encoding": {"y": {"datum": 96.5, "type": "quantitative", "axis": {"values": [0,25,50,75,100,125,150,175,200], "grid": true, "gridColor": "#c6c6c6", "labelOverlap": false, "labelExpr": "datum.value % 50 === 0 ? datum.label : ''", "title": "Index S (%)", "labelPadding": 5, "titlePadding": 8}}}},
   {"data": {"values": [{}]}, "mark": {"type": "rule", "color": "#f6d38e", "strokeWidth": 2}, "encoding": {"y": {"datum": 103.5, "type": "quantitative", "axis": {"values": [0,25,50,75,100,125,150,175,200], "grid": true, "gridColor": "#c6c6c6", "labelOverlap": false, "labelExpr": "datum.value % 50 === 0 ? datum.label : ''", "title": "Index S (%)", "labelPadding": 5, "titlePadding": 8}}}},
   {"data": {"name": "m60"}, "mark": {"type": "circle", "size": 13, "color": "#1d4f9c", "opacity": 1}, "encoding": {"x": {"field": "x", "type": "quantitative", "axis": {"values": [0,25,50,75,100,125,150,175,200], "grid": true, "gridColor": "#c6c6c6", "labelOverlap": false, "title": "Position (mm)", "labelPadding": 6, "titlePadding": 14}}, "y": {"field": "y", "type": "quantitative", "axis": {"values": [0,25,50,75,100,125,150,175,200], "grid": true, "gridColor": "#c6c6c6", "labelOverlap": false, "labelExpr": "datum.value % 50 === 0 ? datum.label : ''", "title": "Index S (%)", "labelPadding": 5, "titlePadding": 8}}}},
   {"data": {"values": [{}]}, "mark": {"type": "text", "font": "Liberation Serif", "fontSize": 22, "align": "right", "baseline": "middle", "color": "#222222"}, "encoding": {"x": {"datum": 188, "type": "quantitative", "axis": {"values": [0,25,50,75,100,125,150,175,200], "grid": true, "gridColor": "#c6c6c6", "labelOverlap": false, "title": "Position (mm)", "labelPadding": 6, "titlePadding": 14}}, "y": {"datum": 181, "type": "quantitative", "axis": {"values": [0,25,50,75,100,125,150,175,200], "grid": true, "gridColor": "#c6c6c6", "labelOverlap": false, "labelExpr": "datum.value % 50 === 0 ? datum.label : ''", "title": "Index S (%)", "labelPadding": 5, "titlePadding": 8}}, "text": {"value": "t = 60 s"}}}
  ]},
  {"width": 283, "height": 222, "layer": [
   {"data": {"values": [{}]}, "mark": {"type": "rect", "fill": "#fdf1d6"}, "encoding": {"x": {"datum": 0, "type": "quantitative", "scale": {"domain": [0, 200], "nice": false}, "axis": {"values": [0,25,50,75,100,125,150,175,200], "grid": true, "gridColor": "#c6c6c6", "labelOverlap": false, "title": "Position (mm)", "labelPadding": 6, "titlePadding": 14}}, "x2": {"datum": 200}, "y": {"datum": 96.5, "type": "quantitative", "scale": {"domain": [0, 200], "nice": false}, "axis": {"values": [0,25,50,75,100,125,150,175,200], "grid": true, "gridColor": "#c6c6c6", "labelOverlap": false, "labelExpr": "datum.value % 50 === 0 ? datum.label : ''", "title": "Index S (%)", "labelPadding": 5, "titlePadding": 8}}, "y2": {"datum": 103.5}}},
   {"data": {"values": [{}]}, "mark": {"type": "rule", "color": "#f6d38e", "strokeWidth": 2}, "encoding": {"y": {"datum": 96.5, "type": "quantitative", "axis": {"values": [0,25,50,75,100,125,150,175,200], "grid": true, "gridColor": "#c6c6c6", "labelOverlap": false, "labelExpr": "datum.value % 50 === 0 ? datum.label : ''", "title": "Index S (%)", "labelPadding": 5, "titlePadding": 8}}}},
   {"data": {"values": [{}]}, "mark": {"type": "rule", "color": "#f6d38e", "strokeWidth": 2}, "encoding": {"y": {"datum": 103.5, "type": "quantitative", "axis": {"values": [0,25,50,75,100,125,150,175,200], "grid": true, "gridColor": "#c6c6c6", "labelOverlap": false, "labelExpr": "datum.value % 50 === 0 ? datum.label : ''", "title": "Index S (%)", "labelPadding": 5, "titlePadding": 8}}}},
   {"data": {"name": "m3600"}, "mark": {"type": "circle", "size": 11, "color": "#4b2a78", "opacity": 1}, "encoding": {"x": {"field": "x", "type": "quantitative", "axis": {"values": [0,25,50,75,100,125,150,175,200], "grid": true, "gridColor": "#c6c6c6", "labelOverlap": false, "title": "Position (mm)", "labelPadding": 6, "titlePadding": 14}}, "y": {"field": "y", "type": "quantitative", "axis": {"values": [0,25,50,75,100,125,150,175,200], "grid": true, "gridColor": "#c6c6c6", "labelOverlap": false, "labelExpr": "datum.value % 50 === 0 ? datum.label : ''", "title": "Index S (%)", "labelPadding": 5, "titlePadding": 8}}}},
   {"data": {"values": [{}]}, "mark": {"type": "text", "font": "Liberation Serif", "fontSize": 22, "align": "right", "baseline": "middle", "color": "#222222"}, "encoding": {"x": {"datum": 193, "type": "quantitative", "axis": {"values": [0,25,50,75,100,125,150,175,200], "grid": true, "gridColor": "#c6c6c6", "labelOverlap": false, "title": "Position (mm)", "labelPadding": 6, "titlePadding": 14}}, "y": {"datum": 181, "type": "quantitative", "axis": {"values": [0,25,50,75,100,125,150,175,200], "grid": true, "gridColor": "#c6c6c6", "labelOverlap": false, "labelExpr": "datum.value % 50 === 0 ? datum.label : ''", "title": "Index S (%)", "labelPadding": 5, "titlePadding": 8}}, "text": {"value": "t = 3600 s"}}}
  ]}
 ], "spacing": 54, "title": {"text": "(e) Embedding", "orient": "bottom", "anchor": "middle", "offset": 12, "dx": 14}}
]
}
